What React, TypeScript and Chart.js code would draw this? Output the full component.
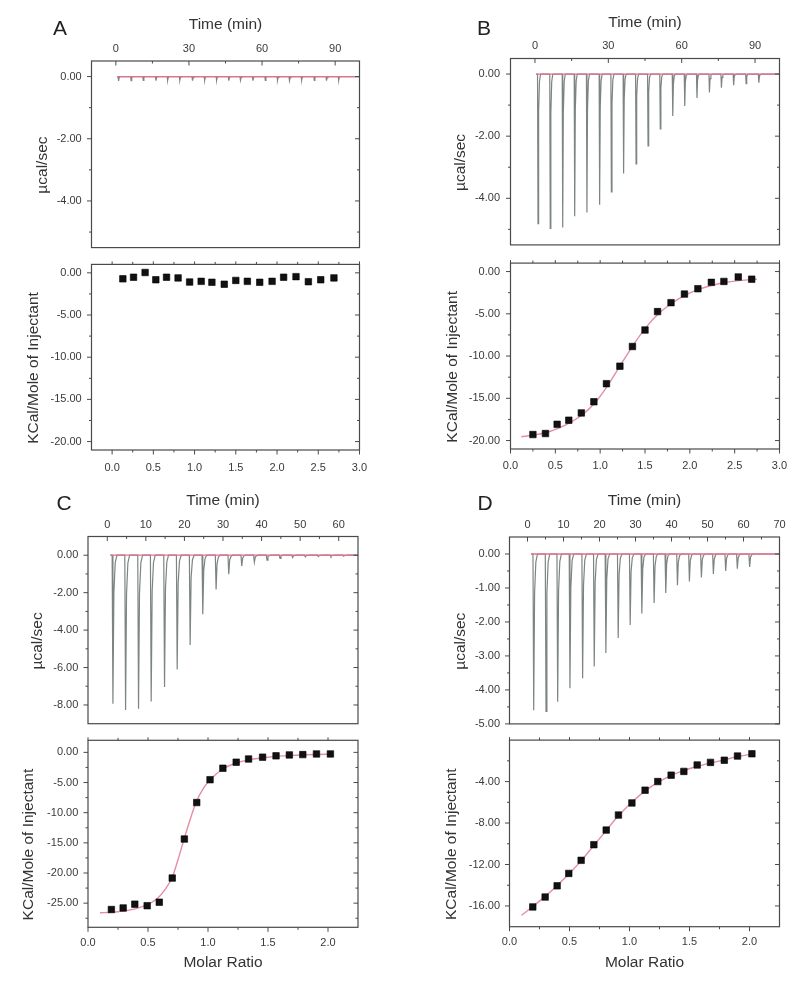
import React, { useEffect, useRef } from 'react';
import { Chart, registerables } from 'chart.js';

Chart.register(...registerables);

const FONT = "'Liberation Sans', Arial, Helvetica, sans-serif";
Chart.defaults.font.family = FONT;

// ---------------- Data ----------------
// Panel A
const A_TIMES = [0.95, 6.1, 11.1, 16.3, 21.1, 26.1, 31.3, 36.3, 41.2, 46.2, 51.0, 56.1, 61.2, 66.2, 71.1, 76.1, 81.3, 86.3, 91.3];
const A_PEAKS = [-0.14, -0.13, -0.12, -0.13, -0.12, -0.12, -0.13, -0.12, -0.12, -0.13, -0.12, -0.13, -0.12, -0.12, -0.13, -0.12, -0.12, -0.13, -0.12];
const A_BASE = [0.5, 100];
const A_RATIO = [0.13, 0.26, 0.4, 0.53, 0.66, 0.8, 0.94, 1.08, 1.21, 1.36, 1.5, 1.64, 1.79, 1.94, 2.08, 2.23, 2.38, 2.53, 2.69];
const A_HEAT = [-0.71, -0.52, 0.04, -0.82, -0.52, -0.6, -1.09, -1.01, -1.12, -1.35, -0.9, -1.01, -1.12, -1.01, -0.52, -0.45, -1.05, -0.82, -0.6];

// Panel B
const B_TIMES = [1.1, 6.1, 11.2, 16.1, 21.1, 26.3, 31.1, 36.1, 41.2, 46.1, 51.1, 56.2, 61.1, 66.1, 71.2, 76.1, 81.1, 86.2, 91.4];
const B_PEAKS = [-4.82, -4.97, -4.94, -4.58, -4.46, -4.21, -3.79, -3.2, -2.89, -2.31, -1.77, -1.35, -1.03, -0.77, -0.59, -0.44, -0.36, -0.31, -0.28];
const B_BASE = [0.5, 100];
const B_RATIO = [0.25, 0.39, 0.52, 0.65, 0.79, 0.93, 1.07, 1.22, 1.36, 1.5, 1.64, 1.79, 1.94, 2.09, 2.24, 2.38, 2.54, 2.69];
const B_HEAT = [-19.29, -19.17, -18.08, -17.59, -16.73, -15.41, -13.27, -11.2, -8.87, -6.92, -4.74, -3.68, -2.67, -2.03, -1.28, -1.17, -0.64, -0.9];
const B_FIT_X = [0.12, 0.26, 0.4, 0.53, 0.66, 0.8, 0.94, 1.08, 1.22, 1.36, 1.5, 1.65, 1.8, 1.94, 2.09, 2.24, 2.39, 2.54, 2.69, 2.75];
const B_FIT_Y = [-19.55, -19.35, -19.05, -18.55, -17.9, -16.95, -15.55, -13.55, -11.2, -8.85, -6.75, -5.0, -3.75, -2.85, -2.15, -1.65, -1.3, -1.08, -0.95, -0.9];

// Panel C
const C_TIMES = [1.31, 4.59, 7.95, 11.23, 14.69, 17.97, 21.33, 24.61, 28.06, 31.34, 34.71, 37.98, 41.26, 44.63, 47.91, 51.19, 54.55, 57.83, 61.11];
const C_PEAKS = [-7.93, -8.27, -8.2, -7.81, -7.04, -6.1, -4.79, -3.15, -1.83, -1.01, -0.58, -0.38, -0.26, -0.17, -0.12, -0.09, -0.07, -0.07, -0.05];
const C_BASE = [0.8, 65];
const C_RATIO = [0.195, 0.293, 0.39, 0.493, 0.594, 0.702, 0.803, 0.906, 1.017, 1.124, 1.235, 1.338, 1.455, 1.567, 1.678, 1.79, 1.904, 2.02];
const C_HEAT = [-26.05, -25.79, -25.16, -25.42, -24.84, -20.84, -14.37, -8.32, -4.53, -2.63, -1.63, -1.1, -0.79, -0.58, -0.42, -0.37, -0.26, -0.26];
const C_FIT_X = [0.1, 0.2, 0.3, 0.4, 0.5, 0.58, 0.64, 0.7, 0.75, 0.8, 0.85, 0.9, 0.96, 1.02, 1.12, 1.23, 1.35, 1.5, 1.7, 1.9, 2.02];
const C_FIT_Y = [-26.6, -26.5, -26.3, -25.9, -25.2, -24.2, -22.8, -20.8, -17.8, -14.4, -11.2, -8.3, -6.0, -4.5, -2.8, -1.8, -1.2, -0.8, -0.5, -0.35, -0.3];

// Panel D
const D_TIMES = [1.57, 4.99, 8.23, 11.64, 15.16, 18.39, 21.62, 25.04, 28.37, 31.61, 35.02, 38.26, 41.5, 44.82, 48.15, 51.48, 54.9, 58.13, 61.55];
const D_PEAKS = [-4.6, -4.63, -4.35, -3.95, -3.66, -3.31, -2.91, -2.47, -2.09, -1.75, -1.44, -1.15, -0.92, -0.81, -0.69, -0.59, -0.5, -0.43, -0.38];
const D_BASE = [1.0, 70];
const D_RATIO = [0.194, 0.297, 0.397, 0.494, 0.597, 0.703, 0.806, 0.908, 1.02, 1.13, 1.236, 1.347, 1.453, 1.564, 1.675, 1.79, 1.9, 2.02];
const D_HEAT = [-16.09, -15.14, -14.06, -12.86, -11.6, -10.09, -8.68, -7.23, -6.06, -4.83, -4.0, -3.38, -3.02, -2.4, -2.15, -1.94, -1.54, -1.32];
const D_FIT_X = [0.1, 0.2, 0.3, 0.4, 0.5, 0.6, 0.7, 0.8, 0.9, 1.02, 1.13, 1.24, 1.35, 1.45, 1.56, 1.68, 1.79, 1.9, 2.02];
const D_FIT_Y = [-16.9, -16.0, -15.05, -14.0, -12.85, -11.6, -10.2, -8.8, -7.4, -6.0, -4.9, -4.05, -3.4, -2.95, -2.55, -2.2, -1.9, -1.6, -1.35];

// Tick values
const TIME_TICKS_AB = [0, 30, 60, 90];
const TIME_MINOR_AB = [15, 45, 75];
const TIME_TICKS_C = [0, 10, 20, 30, 40, 50, 60];
const TIME_MINOR_C = [5, 15, 25, 35, 45, 55];
const TIME_TICKS_D = [0, 10, 20, 30, 40, 50, 60, 70];
const TIME_MINOR_D = [5, 15, 25, 35, 45, 55, 65];
const POWER_TICKS_AB = [0, -2, -4];
const POWER_MINOR_AB = [-1, -3, -5];
const POWER_TICKS_C = [0, -2, -4, -6, -8];
const POWER_MINOR_C = [-1, -3, -5, -7];
const POWER_TICKS_D = [0, -1, -2, -3, -4, -5];
const POWER_MINOR_D = [-0.5, -1.5, -2.5, -3.5, -4.5];
const RATIO_TICKS_AB = [0, 0.5, 1, 1.5, 2, 2.5, 3];
const RATIO_MINOR_AB = [0.25, 0.75, 1.25, 1.75, 2.25, 2.75];
const RATIO_TICKS_CD = [0, 0.5, 1, 1.5, 2];
const RATIO_MINOR_CD = [0.25, 0.75, 1.25, 1.75];
const HEAT_TICKS_AB = [0, -5, -10, -15, -20];
const HEAT_MINOR_AB = [-2.5, -7.5, -12.5, -17.5];
const HEAT_TICKS_C = [0, -5, -10, -15, -20, -25];
const HEAT_MINOR_C = [-2.5, -7.5, -12.5, -17.5, -22.5, -27.5];
const HEAT_TICKS_D = [-4, -8, -12, -16];
const HEAT_MINOR_D = [-2, -6, -10, -14];

// ---------------- Styles ----------------
const TICK_SIZE = 11;
const TITLE_SIZE = 15.5;
const FRAME_COLOR = '#4a4a4a';
const TEXT_COLOR = '#3a3a3a';
const SPIKE_COLOR = '#7c8583';
const BASE_COLOR = '#e4708c';
const FIT_COLOR = '#e38ea3';
const SPIKE_DT = [-0.05, 0.15, 0.4, 0.75, 1.2];
const SPIKE_F = [0, 1, 0.25, 0.05, 0];
const TITLE_SHIFT = '     ';

function thermogramPoints(times: number[], peaks: number[], base: number[]) {
  const pts: { x: number; y: number }[] = [{ x: base[0], y: 0 }];
  times.forEach((t, i) => {
    SPIKE_DT.forEach((dt, k) => pts.push({ x: t + dt, y: peaks[i] * SPIKE_F[k] }));
  });
  pts.push({ x: base[1], y: 0 });
  return pts;
}

function topDatasets(times: number[], peaks: number[], base: number[]) {
  return [
    {
      data: [{ x: base[0], y: 0 }, { x: base[1], y: 0 }],
      showLine: true, borderColor: BASE_COLOR, borderWidth: 1.3, pointRadius: 0,
    },
    {
      data: thermogramPoints(times, peaks, base),
      showLine: true, borderColor: SPIKE_COLOR, borderWidth: 1.2, pointRadius: 0, tension: 0,
    },
  ];
}

function bottomDatasets(ratio: number[], heat: number[], fitX?: number[], fitY?: number[]) {
  const ds: any[] = [
    {
      data: ratio.map((r, i) => ({ x: r, y: heat[i] })),
      pointStyle: 'rect', pointRadius: 4.6, backgroundColor: '#111', borderColor: '#000', borderWidth: 0.6,
      showLine: false,
    },
  ];
  if (fitX && fitY) {
    ds.push({
      data: fitX.map((x, i) => ({ x, y: fitY[i] })),
      showLine: true, borderColor: FIT_COLOR, borderWidth: 1.4, pointRadius: 0,
      cubicInterpolationMode: 'monotone',
    });
  }
  return ds;
}

type Edge = { side: 'top' | 'bottom' | 'left' | 'right'; inward: boolean; major: number; minor: number };

type Half = {
  kind: 'top' | 'bottom';
  cx: number; cy: number; w: number; h: number;
  area: { l: number; t: number; r: number; b: number };
  x: { min: number; max: number; ticks: number[]; minor: number[]; dec: number; labelCenter: number; title?: string; titleCenter?: number };
  y: { min: number; max: number; ticks: number[]; minor: number[]; dec: number; labelRight: number; title: string; titleCenterX: number };
  datasets: any[];
  edges: Edge[];
};

const TOP_EDGES: Edge[] = [
  { side: 'top', inward: true, major: 4.5, minor: 2.5 },
  { side: 'left', inward: false, major: 4.5, minor: 2.5 },
  { side: 'right', inward: true, major: 4.5, minor: 2.5 },
];
const BOTTOM_EDGES: Edge[] = [
  { side: 'top', inward: false, major: 3, minor: 2.5 },
  { side: 'bottom', inward: false, major: 4.5, minor: 2.5 },
  { side: 'left', inward: false, major: 4.5, minor: 2.5 },
  { side: 'right', inward: true, major: 4.5, minor: 2.5 },
];

const HALVES: Half[] = [
  // A top
  {
    kind: 'top', cx: 0, cy: 0, w: 400, h: 264,
    area: { l: 91.5, t: 61, r: 359.5, b: 256 },
    x: { min: -10, max: 100, ticks: TIME_TICKS_AB, minor: TIME_MINOR_AB, dec: 0, labelCenter: 49, title: 'Time (min)', titleCenter: 25 },
    y: { min: -5.5, max: 0.5, ticks: POWER_TICKS_AB, minor: POWER_MINOR_AB, dec: 2, labelRight: 81.7, title: 'µcal/sec', titleCenterX: 42.5 },
    datasets: topDatasets(A_TIMES, A_PEAKS, A_BASE),
    edges: TOP_EDGES,
  },
  // A bottom
  {
    kind: 'bottom', cx: 0, cy: 248, w: 400, h: 242,
    area: { l: 91.5, t: 256, r: 359.5, b: 450 },
    x: { min: -0.25, max: 3, ticks: RATIO_TICKS_AB, minor: RATIO_MINOR_AB, dec: 1, labelCenter: 467.5 },
    y: { min: -21, max: 1, ticks: HEAT_TICKS_AB, minor: HEAT_MINOR_AB, dec: 2, labelRight: 81.7, title: 'KCal/Mole of Injectant', titleCenterX: 34.2 },
    datasets: bottomDatasets(A_RATIO, A_HEAT),
    edges: BOTTOM_EDGES,
  },
  // B top
  {
    kind: 'top', cx: 400, cy: 0, w: 400, h: 262,
    area: { l: 510.5, t: 58.5, r: 779.5, b: 253.5 },
    x: { min: -10, max: 100, ticks: TIME_TICKS_AB, minor: TIME_MINOR_AB, dec: 0, labelCenter: 45.5, title: 'Time (min)', titleCenter: 22.5 },
    y: { min: -5.5, max: 0.5, ticks: POWER_TICKS_AB, minor: POWER_MINOR_AB, dec: 2, labelRight: 500, title: 'µcal/sec', titleCenterX: 461 },
    datasets: topDatasets(B_TIMES, B_PEAKS, B_BASE),
    edges: TOP_EDGES,
  },
  // B bottom
  {
    kind: 'bottom', cx: 400, cy: 245.5, w: 400, h: 244.5,
    area: { l: 510.5, t: 253.5, r: 779.5, b: 449 },
    x: { min: 0, max: 3, ticks: RATIO_TICKS_AB, minor: RATIO_MINOR_AB, dec: 1, labelCenter: 465.8 },
    y: { min: -21, max: 1, ticks: HEAT_TICKS_AB, minor: HEAT_MINOR_AB, dec: 2, labelRight: 500, title: 'KCal/Mole of Injectant', titleCenterX: 453 },
    datasets: bottomDatasets(B_RATIO, B_HEAT, B_FIT_X, B_FIT_Y),
    edges: BOTTOM_EDGES,
  },
  // C top
  {
    kind: 'top', cx: 0, cy: 480, w: 400, h: 260,
    area: { l: 88, t: 536.5, r: 358, b: 731.5 },
    x: { min: -5, max: 65, ticks: TIME_TICKS_C, minor: TIME_MINOR_C, dec: 0, labelCenter: 524.5, title: 'Time (min)', titleCenter: 500.8 },
    y: { min: -9, max: 1, ticks: POWER_TICKS_C, minor: POWER_MINOR_C, dec: 2, labelRight: 78.3, title: 'µcal/sec', titleCenterX: 37.5 },
    datasets: topDatasets(C_TIMES, C_PEAKS, C_BASE),
    edges: TOP_EDGES,
  },
  // C bottom
  {
    kind: 'bottom', cx: 0, cy: 723.5, w: 400, h: 257.5,
    area: { l: 88, t: 731.5, r: 358, b: 927.3 },
    x: { min: 0, max: 2.25, ticks: RATIO_TICKS_CD, minor: RATIO_MINOR_CD, dec: 1, labelCenter: 942.5, title: 'Molar Ratio', titleCenter: 962.5 },
    y: { min: -29, max: 2, ticks: HEAT_TICKS_C, minor: HEAT_MINOR_C, dec: 2, labelRight: 78.3, title: 'KCal/Mole of Injectant', titleCenterX: 28.3 },
    datasets: bottomDatasets(C_RATIO, C_HEAT, C_FIT_X, C_FIT_Y),
    edges: BOTTOM_EDGES,
  },
  // D top
  {
    kind: 'top', cx: 400, cy: 480, w: 400, h: 260,
    area: { l: 509.5, t: 537, r: 779.5, b: 731.5 },
    x: { min: -5, max: 70, ticks: TIME_TICKS_D, minor: TIME_MINOR_D, dec: 0, labelCenter: 524.5, title: 'Time (min)', titleCenter: 500.8 },
    y: { min: -5, max: 0.5, ticks: POWER_TICKS_D, minor: POWER_MINOR_D, dec: 2, labelRight: 500, title: 'µcal/sec', titleCenterX: 461 },
    datasets: topDatasets(D_TIMES, D_PEAKS, D_BASE),
    edges: TOP_EDGES,
  },
  // D bottom
  {
    kind: 'bottom', cx: 400, cy: 723.5, w: 400, h: 257.5,
    area: { l: 509.5, t: 731.5, r: 779.5, b: 926.7 },
    x: { min: 0, max: 2.25, ticks: RATIO_TICKS_CD, minor: RATIO_MINOR_CD, dec: 1, labelCenter: 941.7, title: 'Molar Ratio', titleCenter: 962.5 },
    y: { min: -18, max: 0, ticks: HEAT_TICKS_D, minor: HEAT_MINOR_D, dec: 2, labelRight: 500, title: 'KCal/Mole of Injectant', titleCenterX: 451.7 },
    datasets: bottomDatasets(D_RATIO, D_HEAT, D_FIT_X, D_FIT_Y),
    edges: BOTTOM_EDGES,
  },
];

const LETTERS = [
  { text: 'A', x: 60, y: 27 },
  { text: 'B', x: 484, y: 27 },
  { text: 'C', x: 64, y: 502 },
  { text: 'D', x: 485, y: 502 },
];

function makeFramePlugin(s: Half) {
  return {
    id: 'frame',
    afterDatasetsDraw(chart: any) {
      const { ctx, chartArea: a } = chart;
      const xs = chart.scales.x;
      const ys = chart.scales.y;
      ctx.save();
      ctx.strokeStyle = FRAME_COLOR;
      ctx.lineWidth = 1.2;
      ctx.strokeRect(a.left, a.top, a.right - a.left, a.bottom - a.top);
      ctx.lineWidth = 1;
      const line = (x1: number, y1: number, x2: number, y2: number) => {
        ctx.beginPath();
        ctx.moveTo(x1, y1);
        ctx.lineTo(x2, y2);
        ctx.stroke();
      };
      for (const e of s.edges) {
        const horiz = e.side === 'top' || e.side === 'bottom';
        const scale = horiz ? xs : ys;
        const major = horiz ? s.x.ticks : s.y.ticks;
        const minor = horiz ? s.x.minor : s.y.minor;
        const base = e.side === 'top' ? a.top : e.side === 'bottom' ? a.bottom : e.side === 'left' ? a.left : a.right;
        const outSign = e.side === 'top' || e.side === 'left' ? -1 : 1;
        const sign = e.inward ? -outSign : outSign;
        const groups: [number[], number][] = [[major, e.major], [minor, e.minor]];
        for (const [vals, len] of groups) {
          for (const v of vals) {
            const p = scale.getPixelForValue(v);
            if (horiz) line(p, base, p, base + sign * len);
            else line(base, p, base + sign * len, p);
          }
        }
      }
      ctx.restore();
    },
  };
}

function buildConfig(s: Half): any {
  const isTop = s.kind === 'top';
  const yW = s.area.l - s.cx;
  const padR = s.cx + s.w - s.area.r;
  const padT = isTop ? 0 : s.area.t - s.cy;
  const padB = isTop ? s.cy + s.h - s.area.b : 0;
  const xH = isTop ? s.area.t - s.cy : s.cy + s.h - s.area.b;
  const LH = TICK_SIZE * 1.2;
  const TLH = TITLE_SIZE * 1.2;
  const xLabelPad = isTop ? s.area.t - s.x.labelCenter - LH / 2 : s.x.labelCenter - s.area.b - LH / 2;
  const xTitlePad = s.x.title && s.x.titleCenter !== undefined
    ? (isTop ? s.x.titleCenter - s.cy - TLH / 2 : s.cy + s.h - s.x.titleCenter - TLH / 2)
    : 0;
  const yLabelPad = s.area.l - s.y.labelRight;
  const yTitlePad = s.y.titleCenterX - s.cx - TLH / 2;

  return {
    type: 'scatter',
    data: { datasets: s.datasets },
    options: {
      animation: false,
      responsive: false,
      maintainAspectRatio: false,
      events: [],
      layout: { padding: { left: 0, right: padR, top: padT, bottom: padB } },
      plugins: { legend: { display: false }, tooltip: { enabled: false } },
      scales: {
        x: {
          type: 'linear',
          position: isTop ? 'top' : 'bottom',
          min: s.x.min,
          max: s.x.max,
          afterBuildTicks: (sc: any) => { sc.ticks = s.x.ticks.map((v) => ({ value: v })); },
          afterFit: (sc: any) => { sc.height = xH; },
          ticks: {
            autoSkip: false, maxRotation: 0, minRotation: 0,
            padding: xLabelPad,
            color: TEXT_COLOR,
            font: { size: TICK_SIZE, family: FONT },
            callback: (v: any) => Number(v).toFixed(s.x.dec),
          },
          grid: { display: true, drawOnChartArea: false, drawTicks: false },
          border: { display: false },
          title: {
            display: !!s.x.title,
            text: s.x.title || '',
            color: '#333',
            font: { size: TITLE_SIZE, family: FONT },
            padding: { top: xTitlePad, bottom: xTitlePad },
          },
        },
        y: {
          type: 'linear',
          position: 'left',
          min: s.y.min,
          max: s.y.max,
          afterBuildTicks: (sc: any) => { sc.ticks = s.y.ticks.map((v) => ({ value: v })); },
          afterFit: (sc: any) => { sc.width = yW; },
          ticks: {
            autoSkip: false,
            padding: yLabelPad,
            color: TEXT_COLOR,
            font: { size: TICK_SIZE, family: FONT },
            callback: (v: any) => Number(v).toFixed(s.y.dec),
          },
          grid: { display: true, drawOnChartArea: false, drawTicks: false },
          border: { display: false },
          title: {
            display: true,
            text: s.y.title + TITLE_SHIFT,
            color: '#333',
            font: { size: TITLE_SIZE, family: FONT },
            padding: { top: yTitlePad, bottom: 0 },
          },
        },
      },
    },
    plugins: [makeFramePlugin(s)],
  };
}

function HalfChart({ spec }: { spec: Half }) {
  const ref = useRef<HTMLCanvasElement | null>(null);
  useEffect(() => {
    if (!ref.current) return;
    const chart = new Chart(ref.current, buildConfig(spec));
    return () => chart.destroy();
  }, [spec]);
  return (
    <canvas
      ref={ref}
      width={spec.w}
      height={spec.h}
      style={{ position: 'absolute', left: spec.cx, top: spec.cy, width: spec.w, height: spec.h }}
    />
  );
}

export default function App() {
  return (
    <div style={{ position: 'absolute', left: 0, top: 0, width: 800, height: 981, background: '#fff', overflow: 'hidden' }}>
      {HALVES.map((s, i) => (
        <HalfChart key={i} spec={s} />
      ))}
      {LETTERS.map((l) => (
        <div
          key={l.text}
          style={{
            position: 'absolute', left: l.x - 15, top: l.y - 10.25, width: 30, textAlign: 'center',
            fontFamily: FONT, fontSize: 21, lineHeight: '21px', color: '#222',
          }}
        >
          {l.text}
        </div>
      ))}
    </div>
  );
}
